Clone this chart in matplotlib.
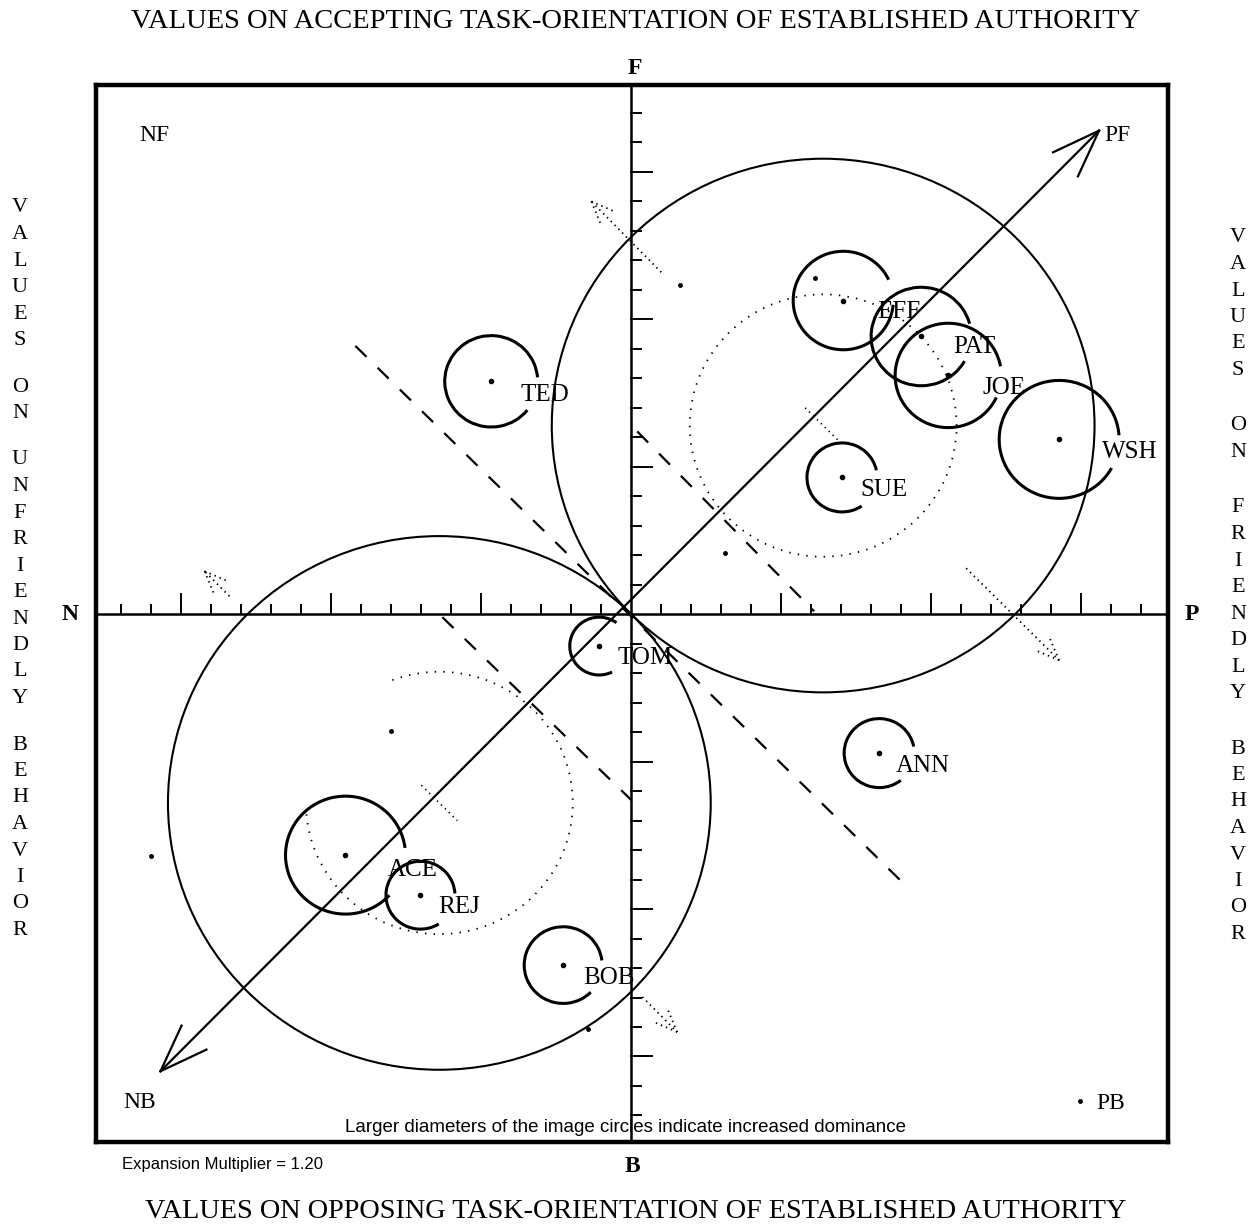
import matplotlib
matplotlib.use("Agg")
import matplotlib.pyplot as plt
from matplotlib.patches import Circle, Arc
import numpy as np

# field extents in SYMLOG units
x_lim = (-17.85, 17.9)
y_lim = (-17.9, 17.95)
tick_vals = list(range(1, 18))
long_ticks = [5, 10, 15]

# reference circle (PF) and opposite circle (NB)
ref_center = (6.4, 6.4)
opp_center = (-6.4, -6.4)
big_radius = 9.05
inner_radius = 4.45
# visible part of each inner dotted circle (degrees)
inner_from = [0, 185]
inner_to = [360, 112]

# line of polarization tips
pf_tip = (15.6, 16.4)
nb_tip = (-15.7, -15.5)

# line of balance and the two parallel dashed lines
balance_line = [(-9.2, 9.1), (9.15, -9.2)]
upper_dash = [(0.2, 6.2), (6.1, 0.1)]
lower_dash = [(-6.3, -0.1), (0.0, -6.3)]

# image circles of the members
members = ["TED", "TOM", "SUE", "WSH", "ANN", "BOB", "REJ", "ACE", "EFF", "PAT", "JOE"]
member_x = [-4.67, -1.07, 7.03, 14.27, 8.27, -2.27, -7.03, -9.53, 7.07, 9.67, 10.57]
member_y = [7.9, -1.08, 4.64, 5.93, -4.71, -11.9, -9.53, -8.17, 10.64, 9.42, 8.1]
member_r = [1.55, 0.98, 1.17, 2.0, 1.17, 1.3, 1.15, 2.0, 1.67, 1.67, 1.77]
arc_from = [5, 54, 12, 4, 11, 7, 3, 7, 25, 15, 10]
arc_to = [321, 296, 304, 331, 308, 315, 302, 317, 355, 330, 335]
label_x = [-3.7, -0.47, 7.63, 15.7, 8.83, -1.6, -6.43, -8.13, 8.2, 10.73, 11.73]
label_y = [7.42, -1.49, 4.2, 5.49, -5.15, -12.34, -9.93, -8.68, 10.24, 9.05, 7.69]

# scattered single points
dot_x = [6.13, -16.0, 14.97, -8.0, 3.13, 1.63, -1.43]
dot_y = [11.4, -8.2, -16.5, -3.97, 2.07, 11.15, -14.08]

# dotted vectors (start, end with head)
vec_start = [(1.0, 11.6), (-13.4, 0.61), (11.17, 1.56), (0.37, -12.98)]
vec_end = [(-1.33, 14.0), (-14.23, 1.46), (14.27, -1.56), (1.53, -14.17)]

corner_labels = ["NF", "PF", "NB", "PB"]
corner_x = [-15.9, 16.2, -16.4, 16.0]
corner_y = [16.25, 16.25, -16.55, -16.6]

left_words = ["VALUES", "ON", "UNFRIENDLY", "BEHAVIOR"]
right_words = ["VALUES", "ON", "FRIENDLY", "BEHAVIOR"]

W, H = 1259, 1231
fig = plt.figure(figsize=(W / 100, H / 100), dpi=100, facecolor="white")
ax = fig.add_axes([96 / W, 1 - 1142 / H, (1168 - 96) / W, (1142 - 85) / H])
ax.set_xlim(x_lim)
ax.set_ylim(y_lim)
ax.set_xticks([])
ax.set_yticks([])
for s in ax.spines.values():
    s.set_linewidth(3.2)

serif = "Liberation Serif"
sans = "Liberation Sans"

# axes and ticks
ax.axhline(0, color="black", lw=1.8)
ax.axvline(0, color="black", lw=1.8)
for v in tick_vals:
    for sgn in (-1, 1):
        hx = 0.68 if v in long_ticks else 0.3
        hy = 0.68 if v in long_ticks else 0.32
        ax.plot([sgn * v, sgn * v], [0, hx], color="black", lw=1.4)
        ax.plot([0, hy], [sgn * v, sgn * v], color="black", lw=1.4)

# big circles and inner dotted circles
for c, t0, t1 in zip((ref_center, opp_center), inner_from, inner_to):
    ax.add_patch(Circle(c, big_radius, fill=False, color="black", lw=1.5))
    ax.add_patch(Arc(c, 2 * inner_radius, 2 * inner_radius, theta1=t0, theta2=t1,
                     color="black", lw=1.3, linestyle=(0, (0.8, 4))))
    ax.plot([c[0] - 0.6, c[0] + 0.6], [c[1] + 0.6, c[1] - 0.6], color="black",
            lw=1.2, linestyle=(0, (0.8, 2.5)))

# line of polarization with open arrow heads
ax.plot([nb_tip[0], pf_tip[0]], [nb_tip[1], pf_tip[1]], color="black", lw=1.6)


def barbs(tip, back, length, spread, **kw):
    ang = np.arctan2(back[1] - tip[1], back[0] - tip[0])
    for s in (-spread, spread):
        a = ang + np.radians(s)
        ax.plot([tip[0], tip[0] + length * np.cos(a)],
                [tip[1], tip[1] + length * np.sin(a)], **kw)


barbs(pf_tip, nb_tip, 1.7, 20, color="black", lw=1.6)
barbs(nb_tip, pf_tip, 1.7, 20, color="black", lw=1.6)

# dashed lines
for seg in (balance_line, upper_dash, lower_dash):
    ax.plot([seg[0][0], seg[1][0]], [seg[0][1], seg[1][1]], color="black",
            lw=1.6, linestyle=(0, (7, 7)))

# dotted vectors
for s0, s1 in zip(vec_start, vec_end):
    ax.plot([s0[0], s1[0]], [s0[1], s1[1]], color="black", lw=1.3,
            linestyle=(0, (0.8, 2.2)))
    barbs(s1, s0, 0.9, 22, color="black", lw=1.3, linestyle=(0, (0.8, 2.2)))

# member image circles
for name, x, y, r, a0, a1, lx, ly in zip(members, member_x, member_y, member_r,
                                           arc_from, arc_to, label_x, label_y):
    ax.add_patch(Arc((x, y), 2 * r, 2 * r, theta1=a0, theta2=a1,
                     color="black", lw=2.2))
    ax.plot(x, y, "o", color="black", ms=3)
    ax.text(lx, ly, name, ha="left", va="center", fontsize=18, family=serif)

ax.plot(dot_x, dot_y, "o", color="black", ms=2.5, ls="none")

for t, x, y in zip(corner_labels, corner_x, corner_y):
    ax.text(x, y, t, ha="center", va="center", fontsize=17, family=serif)

ax.text(-0.2, -17.4, "Larger diameters of the image circles indicate increased dominance",
        ha="center", va="center", fontsize=13.5, family=sans)

# outer labels
fig.text(635 / W, 1 - 22 / H,
         "VALUES ON ACCEPTING TASK-ORIENTATION OF ESTABLISHED AUTHORITY",
         ha="center", va="center", fontsize=20.5, family=serif)
fig.text(636 / W, 1 - 1212 / H,
         "VALUES ON OPPOSING TASK-ORIENTATION OF ESTABLISHED AUTHORITY",
         ha="center", va="center", fontsize=20.3, family=serif)
fig.text(635 / W, 1 - 68 / H, "F", ha="center", va="center", fontsize=17,
         family=serif, weight="bold")
fig.text(632 / W, 1 - 1167 / H, "B", ha="center", va="center", fontsize=17,
         family=serif, weight="bold")
fig.text(70 / W, 1 - 614 / H, "N", ha="center", va="center", fontsize=17,
         family=serif, weight="bold")
fig.text(1192 / W, 1 - 614 / H, "P", ha="center", va="center", fontsize=17,
         family=serif, weight="bold")
fig.text(122 / W, 1 - 1165 / H, "Expansion Multiplier = 1.20", ha="left",
         va="center", fontsize=12, family=sans)


def stack(words, x, y0, step, gap):
    y = y0
    for w in words:
        for ch in w:
            fig.text(x / W, 1 - y / H, ch, ha="center", va="center",
                     fontsize=16, family=serif)
            y += step
        y += gap


stack(left_words, 20, 208, 26.5, 20)
stack(right_words, 1238, 238, 26.5, 29)

fig.savefig("out.png", dpi=100, facecolor="white")
